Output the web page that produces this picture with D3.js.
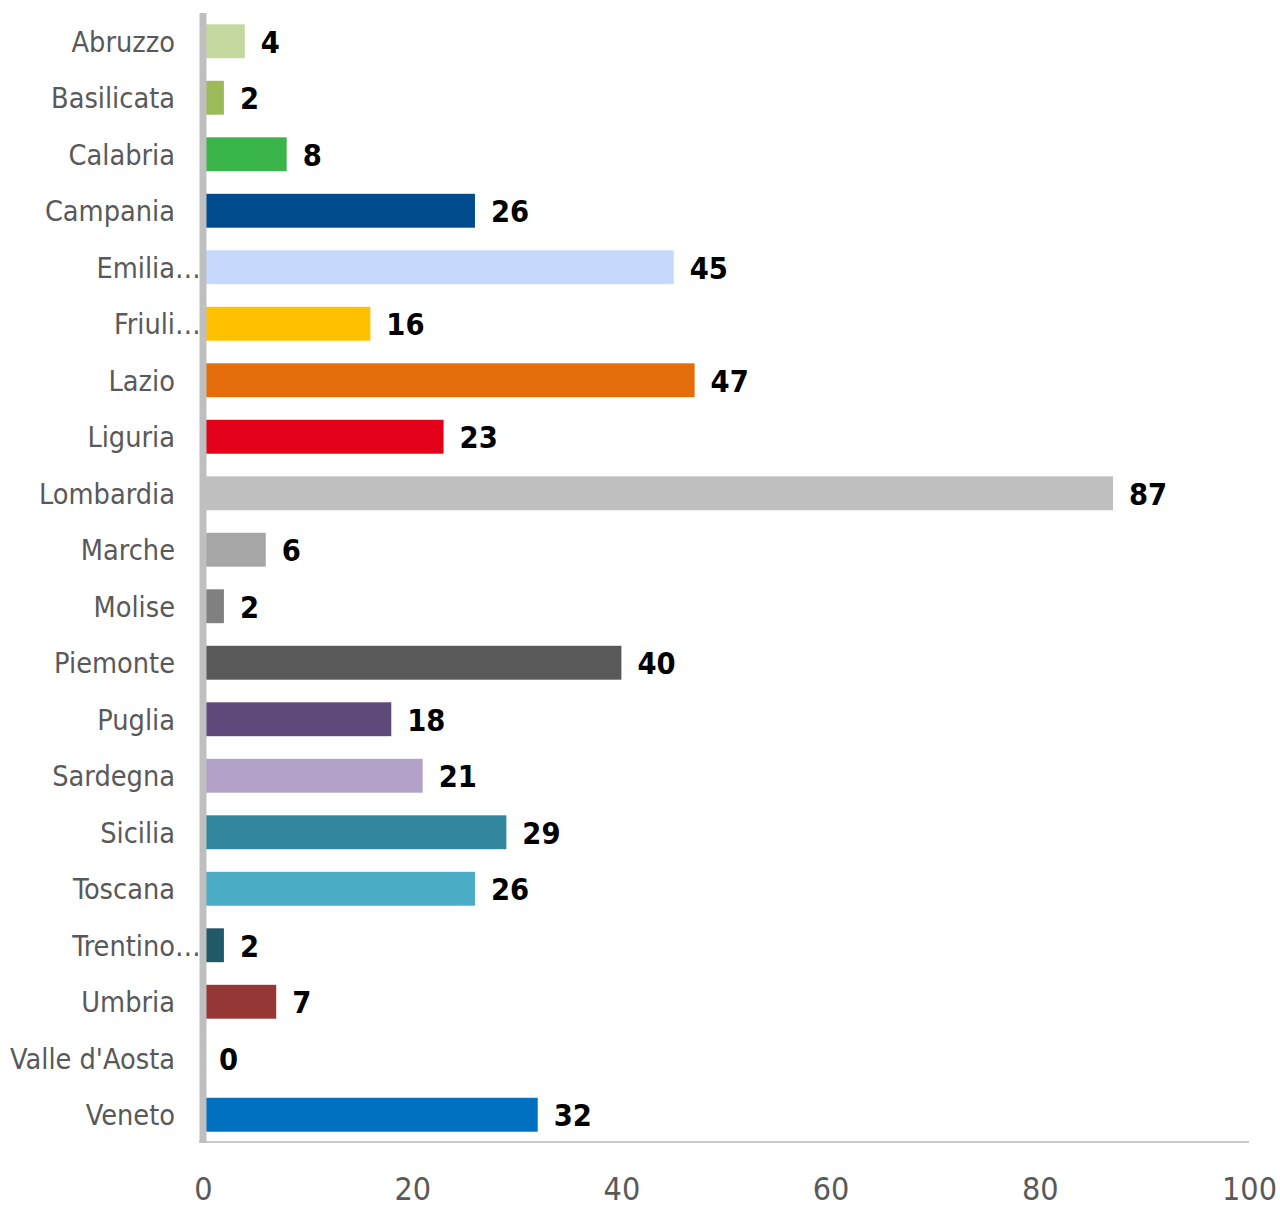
<!DOCTYPE html>
<html><head><meta charset="utf-8">
<script src="https://cdn.jsdelivr.net/npm/d3@7"></script>
<style>
html,body{margin:0;padding:0;background:#fff;}
svg{display:block;font-family:"DejaVu Sans Condensed","DejaVu Sans",sans-serif;}
</style></head>
<body>
<svg id="chart" width="1280" height="1207"></svg>
<script>
const categories = ["Abruzzo","Basilicata","Calabria","Campania","Emilia-Romagna","Friuli-Venezia Giulia","Lazio","Liguria","Lombardia","Marche","Molise","Piemonte","Puglia","Sardegna","Sicilia","Toscana","Trentino-Alto Adige","Umbria","Valle d'Aosta","Veneto"];
const displayLabels = ["Abruzzo","Basilicata","Calabria","Campania","Emilia","Friuli","Lazio","Liguria","Lombardia","Marche","Molise","Piemonte","Puglia","Sardegna","Sicilia","Toscana","Trentino","Umbria","Valle d'Aosta","Veneto"];
const truncated = [false,false,false,false,true,true,false,false,false,false,false,false,false,false,false,false,true,false,false,false];
const values = [4,2,8,26,45,16,47,23,87,6,2,40,18,21,29,26,2,7,0,32];
const colors = ["#c4d99f","#9bbb59","#39b54a","#004b8d","#c5d9fd","#ffc000","#e46c0a","#e2001a","#bfbfbf","#a6a6a6","#808080","#595959","#604a7b","#b3a2c7","#31859c","#4bacc6","#215968","#953735","#7f7f7f","#0070c0"];
const xTicks = [0,20,40,60,80,100];

const svg = d3.select("#chart");
const x = d3.scaleLinear().domain([0,100]).range([203,1249]);
const y = d3.scaleBand().domain(categories).range([13,1143]).paddingInner(0.4).paddingOuter(0.2);

// bars
svg.append("g").selectAll("rect").data(categories).join("rect")
  .attr("x", x(0))
  .attr("y", d => y(d))
  .attr("width", (d,i) => x(values[i]) - x(0))
  .attr("height", y.bandwidth())
  .attr("fill", (d,i) => colors[i]);

// value labels
svg.append("g").selectAll("text").data(categories).join("text")
  .attr("x", (d,i) => x(values[i]) + 16)
  .attr("y", d => y(d) + y.bandwidth()/2)
  .attr("dy", "0.37em")
  .attr("font-weight", "bold")
  .attr("font-size", 30.5)
  .attr("fill", "#000")
  .text((d,i) => values[i]);

// axes lines
svg.append("line").attr("x1", 199).attr("x2", x(100)).attr("y1", 1142).attr("y2", 1142)
  .attr("stroke", "#c8c8c8").attr("stroke-width", 2);
svg.append("line").attr("x1", x(0)).attr("x2", x(0)).attr("y1", 13).attr("y2", 1143)
  .attr("stroke", "#bfbfbf").attr("stroke-width", 7);

// category labels
const lab = svg.append("g").selectAll("g").data(categories).join("g")
  .attr("transform", d => `translate(175,${y(d) + y.bandwidth()/2})`);
lab.append("text")
  .attr("text-anchor", "end")
  .attr("dy", "0.36em")
  .attr("font-size", 28.6)
  .attr("fill", "#595959")
  .text((d,i) => displayLabels[i]);
lab.filter((d,i) => truncated[i]).append("text")
  .attr("x", 0)
  .attr("dy", "0.36em")
  .attr("font-size", 28.6)
  .attr("fill", "#595959")
  .text("…");

// x axis tick labels
const xAxis = d3.axisBottom(x).tickValues(xTicks).tickSize(0).tickPadding(0);
const gx = svg.append("g").attr("transform", "translate(0,1177)").call(xAxis);
gx.select(".domain").remove();
gx.selectAll("text").attr("font-size", 32).attr("fill", "#595959")
  .attr("font-family", "\"DejaVu Sans Condensed\",\"DejaVu Sans\",sans-serif")
  .attr("dy", "0.73em");
</script>
</body></html>
